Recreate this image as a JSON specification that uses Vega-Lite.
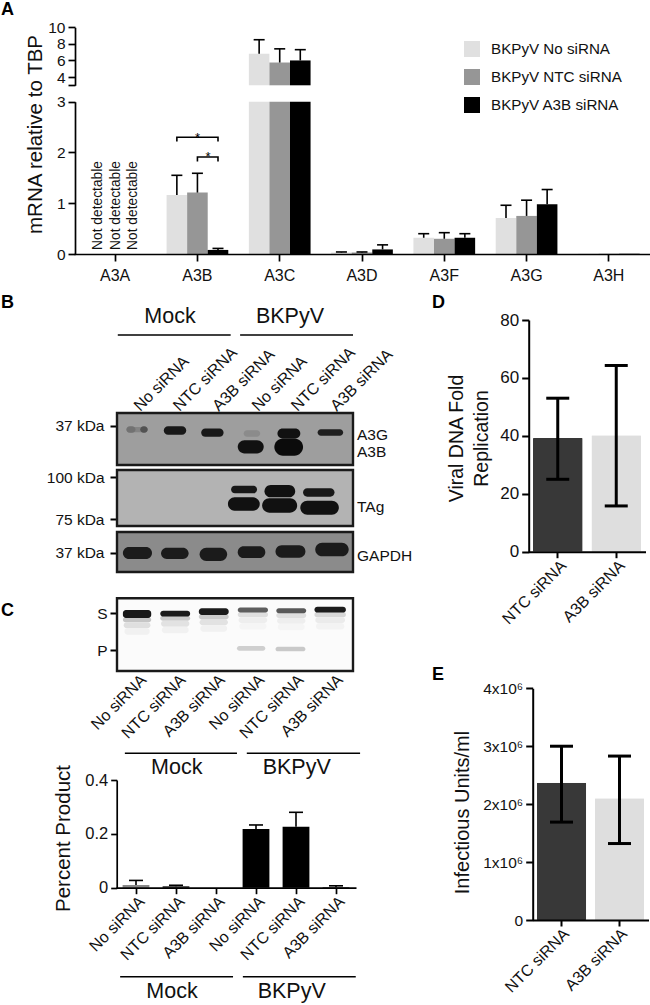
{"$schema":"https://vega.github.io/schema/vega-lite/v6.json","width":650,"height":1005,"autosize":{"type":"none"},"padding":0,"background":"white",
"config":{"view":{"stroke":null},"font":"Liberation Sans","axis":{"grid":false,"labelFont":"Liberation Sans","titleFont":"Liberation Sans","labelColor":"#111","titleColor":"#111","domainColor":"#000","tickColor":"#000","titleFontWeight":"normal","labelOverlap":false,"labelBound":false,"labelFlush":false},"legend":{"labelFont":"Liberation Sans"}},
"datasets":{
"mrna":[
{"gene":"A3B","series":"BKPyV No siRNA","value":1.16,"err":1.55},{"gene":"A3B","series":"BKPyV NTC siRNA","value":1.21,"err":1.59},{"gene":"A3B","series":"BKPyV A3B siRNA","value":0.08,"err":0.11},
{"gene":"A3C","series":"BKPyV No siRNA","value":6.8,"err":8.5},{"gene":"A3C","series":"BKPyV NTC siRNA","value":5.75,"err":7.4},{"gene":"A3C","series":"BKPyV A3B siRNA","value":6.0,"err":7.3},
{"gene":"A3D","series":"BKPyV No siRNA","value":0.03,"err":0.04},{"gene":"A3D","series":"BKPyV NTC siRNA","value":0.03,"err":0.04},{"gene":"A3D","series":"BKPyV A3B siRNA","value":0.09,"err":0.18},
{"gene":"A3F","series":"BKPyV No siRNA","value":0.32,"err":0.4},{"gene":"A3F","series":"BKPyV NTC siRNA","value":0.3,"err":0.42},{"gene":"A3F","series":"BKPyV A3B siRNA","value":0.32,"err":0.4},
{"gene":"A3G","series":"BKPyV No siRNA","value":0.71,"err":0.96},{"gene":"A3G","series":"BKPyV NTC siRNA","value":0.75,"err":1.06},{"gene":"A3G","series":"BKPyV A3B siRNA","value":0.98,"err":1.27},
{"gene":"A3H","series":"BKPyV No siRNA","value":0.005,"err":0.005},{"gene":"A3H","series":"BKPyV NTC siRNA","value":0.005,"err":0.005},{"gene":"A3H","series":"BKPyV A3B siRNA","value":0.005,"err":0.005}],
"blots":[
{"blot":"B1","kind":"membrane","x0":0,"x1":6,"y0":0,"y1":100,"i":0.35},
{"blot":"B1","kind":"band","x0":0.24,"x1":0.78,"y0":27,"y1":37,"i":0.45},{"blot":"B1","kind":"band","x0":0.24,"x1":0.47,"y0":25.5,"y1":38.2,"i":0.52},{"blot":"B1","kind":"band","x0":0.59,"x1":0.78,"y0":25.5,"y1":38.2,"i":0.65},
{"blot":"B1","kind":"band","x0":1.19,"x1":1.76,"y0":25.5,"y1":42,"i":0.92},{"blot":"B1","kind":"band","x0":2.14,"x1":2.71,"y0":30,"y1":45.9,"i":0.92},
{"blot":"B1","kind":"band","x0":3.22,"x1":3.64,"y0":33.1,"y1":45.9,"i":0.42},{"blot":"B1","kind":"band","x0":3.07,"x1":3.73,"y0":52.2,"y1":77.7,"i":0.95},
{"blot":"B1","kind":"band","x0":4.08,"x1":4.66,"y0":30,"y1":49,"i":0.95},{"blot":"B1","kind":"band","x0":4.0,"x1":4.73,"y0":49,"y1":82.2,"i":0.97},{"blot":"B1","kind":"band","x0":5.1,"x1":5.75,"y0":31.2,"y1":43.9,"i":0.88},
{"blot":"B2","kind":"membrane","x0":0,"x1":6,"y0":0,"y1":100,"i":0.27},
{"blot":"B2","kind":"band","x0":2.9,"x1":3.56,"y0":28,"y1":41.7,"i":0.92},{"blot":"B2","kind":"band","x0":2.82,"x1":3.63,"y0":48.8,"y1":72.6,"i":0.95},
{"blot":"B2","kind":"band","x0":3.75,"x1":4.53,"y0":26.8,"y1":48.8,"i":0.95},{"blot":"B2","kind":"band","x0":3.69,"x1":4.58,"y0":50.6,"y1":76.2,"i":0.95},
{"blot":"B2","kind":"band","x0":4.73,"x1":5.53,"y0":32.7,"y1":47.6,"i":0.92},{"blot":"B2","kind":"band","x0":4.66,"x1":5.64,"y0":54.8,"y1":79.8,"i":0.95},
{"blot":"B3","kind":"membrane","x0":0,"x1":6,"y0":0,"y1":100,"i":0.42},
{"blot":"B3","kind":"band","x0":0.15,"x1":0.89,"y0":37.5,"y1":67.5,"i":0.9},{"blot":"B3","kind":"band","x0":1.12,"x1":1.82,"y0":39.2,"y1":67.5,"i":0.9},{"blot":"B3","kind":"band","x0":2.1,"x1":2.8,"y0":39.2,"y1":72.5,"i":0.9},
{"blot":"B3","kind":"band","x0":3.07,"x1":3.77,"y0":35.8,"y1":65,"i":0.9},{"blot":"B3","kind":"band","x0":4.03,"x1":4.79,"y0":33.3,"y1":64.2,"i":0.9},{"blot":"B3","kind":"band","x0":5.04,"x1":5.89,"y0":26.7,"y1":60.8,"i":0.9},
{"blot":"C","kind":"membrane","x0":0,"x1":6,"y0":0,"y1":100,"i":0.015},
{"blot":"C","kind":"band","x0":0.15,"x1":0.87,"y0":26,"y1":33,"i":0.2},{"blot":"C","kind":"band","x0":0.17,"x1":0.85,"y0":33,"y1":41,"i":0.11},{"blot":"C","kind":"band","x0":0.19,"x1":0.83,"y0":41,"y1":50,"i":0.05},
{"blot":"C","kind":"band","x0":1.1,"x1":1.86,"y0":24,"y1":31,"i":0.18},{"blot":"C","kind":"band","x0":1.12,"x1":1.84,"y0":31,"y1":39,"i":0.1},{"blot":"C","kind":"band","x0":1.14,"x1":1.82,"y0":39,"y1":48,"i":0.05},
{"blot":"C","kind":"band","x0":2.08,"x1":2.84,"y0":22,"y1":29,"i":0.18},{"blot":"C","kind":"band","x0":2.1,"x1":2.82,"y0":29,"y1":37,"i":0.1},{"blot":"C","kind":"band","x0":2.12,"x1":2.8,"y0":37,"y1":46,"i":0.05},
{"blot":"C","kind":"band","x0":3.07,"x1":3.84,"y0":19,"y1":26,"i":0.11},{"blot":"C","kind":"band","x0":3.09,"x1":3.82,"y0":26,"y1":34,"i":0.06},{"blot":"C","kind":"band","x0":3.11,"x1":3.8,"y0":34,"y1":43,"i":0.035},
{"blot":"C","kind":"band","x0":4.05,"x1":4.81,"y0":20,"y1":27,"i":0.11},{"blot":"C","kind":"band","x0":4.07,"x1":4.79,"y0":27,"y1":35,"i":0.06},{"blot":"C","kind":"band","x0":4.09,"x1":4.77,"y0":35,"y1":44,"i":0.035},
{"blot":"C","kind":"band","x0":5.02,"x1":5.82,"y0":19,"y1":26,"i":0.14},{"blot":"C","kind":"band","x0":5.04,"x1":5.8,"y0":26,"y1":34,"i":0.07},{"blot":"C","kind":"band","x0":5.06,"x1":5.78,"y0":34,"y1":43,"i":0.04},
{"blot":"C","kind":"band","x0":0.15,"x1":0.87,"y0":16,"y1":27,"i":0.92},{"blot":"C","kind":"band","x0":1.1,"x1":1.86,"y0":17,"y1":25.2,"i":0.9},{"blot":"C","kind":"band","x0":2.08,"x1":2.84,"y0":13.8,"y1":23,"i":0.9},
{"blot":"C","kind":"band","x0":3.07,"x1":3.84,"y0":12.8,"y1":19.7,"i":0.6},{"blot":"C","kind":"band","x0":4.05,"x1":4.81,"y0":13.8,"y1":20.6,"i":0.62},{"blot":"C","kind":"band","x0":5.02,"x1":5.82,"y0":11.5,"y1":19.7,"i":0.9},
{"blot":"C","kind":"band","x0":3.05,"x1":3.77,"y0":65.6,"y1":72,"i":0.17},{"blot":"C","kind":"band","x0":4.03,"x1":4.79,"y0":66.5,"y1":73,"i":0.19}],
"lanes":[{"lane":"Mock|No siRNA"},{"lane":"Mock|NTC siRNA"},{"lane":"Mock|A3B siRNA"},{"lane":"BKPyV|No siRNA"},{"lane":"BKPyV|NTC siRNA"},{"lane":"BKPyV|A3B siRNA"}],
"groups":[{"cond":"Mock"},{"cond":"BKPyV"}],
"product":[{"lane":"Mock|No siRNA","v":0.01,"e":0.027},{"lane":"Mock|NTC siRNA","v":0.005,"e":0.009},{"lane":"Mock|A3B siRNA","v":0,"e":0},{"lane":"BKPyV|No siRNA","v":0.218,"e":0.233},{"lane":"BKPyV|NTC siRNA","v":0.226,"e":0.28},{"lane":"BKPyV|A3B siRNA","v":0.002,"e":0.007}],
"fold":[{"t":"NTC siRNA","v":39.3,"lo":25,"hi":53},{"t":"A3B siRNA","v":40.2,"lo":15.8,"hi":64.3}],
"units":[{"t":"NTC siRNA","v":2370000,"lo":1690000,"hi":3000000},{"t":"A3B siRNA","v":2100000,"lo":1320000,"hi":2830000}]
},
"layer":[
{"data":{"values":[{"letter":"A"},{"letter":"B"}]},"mark":{"type":"text","fontSize":18,"fontWeight":"bold","align":"left","baseline":"middle","color":"#000"},"encoding":{"text":{"field":"letter"},"x":{"field":"letter","type":"nominal","axis":null,"scale":{"type":"point","domain":["A","B"],"range":[1,1],"padding":0}},"y":{"field":"letter","type":"nominal","axis":null,"scale":{"type":"point","domain":["A","B"],"range":[10,303],"padding":0}}}},
{"data":{"values":[{"letter":"C"},{"letter":"D"}]},"mark":{"type":"text","fontSize":18,"fontWeight":"bold","align":"left","baseline":"middle","color":"#000"},"encoding":{"text":{"field":"letter"},"x":{"field":"letter","type":"nominal","axis":null,"scale":{"type":"point","domain":["C","D"],"range":[1,432],"padding":0}},"y":{"field":"letter","type":"nominal","axis":null,"scale":{"type":"point","domain":["C","D"],"range":[611,303],"padding":0}}}},
{"data":{"values":[{"letter":"E"}]},"mark":{"type":"text","fontSize":18,"fontWeight":"bold","align":"left","baseline":"middle","color":"#000"},"encoding":{"text":{"field":"letter"},"x":{"field":"letter","type":"nominal","axis":null,"scale":{"type":"point","domain":["E"],"range":[432,432],"padding":0}},"y":{"field":"letter","type":"nominal","axis":null,"scale":{"type":"point","domain":["E"],"range":[675,675],"padding":0}}}},

{"data":{"name":"mrna"},"layer":[
{"mark":{"type":"bar"},"encoding":{"x":{"field":"gene","type":"nominal","axis":{"orient":"bottom","offset":-751,"title":null,"labelAngle":0,"labelFontSize":16,"labelPadding":6,"tickSize":7,"tickWidth":1.7,"domainWidth":1.7,"zindex":1},"scale":{"type":"band","domain":["A3A","A3B","A3C","A3D","A3F","A3G","A3H"],"range":[74,650],"paddingInner":0.25,"paddingOuter":0.125}},"xOffset":{"field":"series","type":"nominal","scale":{"domain":["BKPyV No siRNA","BKPyV NTC siRNA","BKPyV A3B siRNA"]}},"y":{"field":"value","type":"quantitative","axis":{"orient":"left","offset":-75,"values":[0,1,2,3],"format":"d","title":"mRNA relative to TBP","titleFontSize":20.5,"titleX":-40,"titleY":134,"titleBaseline":"middle","labelFontSize":15.5,"tickSize":7,"tickWidth":1.7,"domainWidth":1.7,"labelPadding":3,"zindex":1},"scale":{"domain":[0,3],"range":[254,101.7],"clamp":true}},"color":{"field":"series","type":"nominal","scale":{"domain":["BKPyV No siRNA","BKPyV NTC siRNA","BKPyV A3B siRNA"],"range":["#e0e0e0","#969696","#000000"]},"legend":{"orient":"none","legendX":463,"legendY":40,"title":null,"symbolType":"square","symbolSize":256,"labelFontSize":15.2,"labelColor":"#111","rowPadding":10,"labelOffset":10}}}},
{"transform":[{"filter":"datum.value<3"}],"mark":{"type":"rule","color":"#000","strokeWidth":1.6},"encoding":{"x":{"field":"gene","type":"nominal"},"xOffset":{"field":"series","type":"nominal"},"y":{"field":"value","type":"quantitative"},"y2":{"field":"err"}}},
{"transform":[{"filter":"datum.value<3 && datum.gene!='A3H'"}],"mark":{"type":"tick","orient":"horizontal","size":11,"thickness":1.6,"color":"#000","opacity":1},"encoding":{"x":{"field":"gene","type":"nominal"},"xOffset":{"field":"series","type":"nominal"},"y":{"field":"err","type":"quantitative"}}}
]},
{"data":{"name":"mrna"},"transform":[{"filter":"datum.gene=='A3C'"}],"layer":[
{"mark":{"type":"bar"},"encoding":{"x":{"field":"gene","type":"nominal","axis":null,"scale":{"type":"band","domain":["A3A","A3B","A3C","A3D","A3F","A3G","A3H"],"range":[74,650],"paddingInner":0.25,"paddingOuter":0.125}},"xOffset":{"field":"series","type":"nominal","scale":{"domain":["BKPyV No siRNA","BKPyV NTC siRNA","BKPyV A3B siRNA"]}},"y":{"field":"value","type":"quantitative","axis":{"orient":"left","offset":-75,"values":[3,4,6,8,10],"labelExpr":"datum.value==3?'':''+datum.value","title":null,"labelFontSize":15.5,"tickSize":7,"tickWidth":1.7,"domainWidth":1.7,"labelPadding":3},"scale":{"domain":[3,10],"range":[85.3,27.3],"clamp":true}},"color":{"field":"series","type":"nominal","scale":{"domain":["BKPyV No siRNA","BKPyV NTC siRNA","BKPyV A3B siRNA"],"range":["#e0e0e0","#969696","#000000"]},"legend":null}}},
{"mark":{"type":"rule","color":"#000","strokeWidth":1.6},"encoding":{"x":{"field":"gene","type":"nominal"},"xOffset":{"field":"series","type":"nominal"},"y":{"field":"value","type":"quantitative"},"y2":{"field":"err"}}},
{"mark":{"type":"tick","orient":"horizontal","size":11,"thickness":1.6,"color":"#000","opacity":1},"encoding":{"x":{"field":"gene","type":"nominal"},"xOffset":{"field":"series","type":"nominal"},"y":{"field":"err","type":"quantitative"}}}
]},
{"data":{"values":[{"s":"No siRNA","value":0,"note":"Not detectable"},{"s":"NTC siRNA","value":0,"note":"Not detectable"},{"s":"A3B siRNA","value":0,"note":"Not detectable"}]},"mark":{"type":"text","fontSize":13.8,"angle":270,"align":"left","baseline":"middle","dx":4,"color":"#111"},"encoding":{"text":{"field":"note"},"x":{"field":"s","type":"nominal","axis":null,"scale":{"type":"point","domain":["No siRNA","NTC siRNA","A3B siRNA"],"range":[98,133],"padding":0}},"y":{"field":"value","type":"quantitative","axis":null,"scale":{"domain":[0,3],"range":[254,101.7]}}}},
{"data":{"values":[{"b":"all","p":1.25,"v":2.215},{"b":"all","p":1.25,"v":2.3},{"b":"all","p":1.75,"v":2.3},{"b":"all","p":1.75,"v":2.215},{"b":"ntc","p":1.5,"v":1.82},{"b":"ntc","p":1.5,"v":1.91},{"b":"ntc","p":1.75,"v":1.91},{"b":"ntc","p":1.75,"v":1.82}]},"mark":{"type":"line","color":"#000","strokeWidth":1.6},"encoding":{"detail":{"field":"b"},"x":{"field":"p","type":"quantitative","axis":null,"scale":{"domain":[0,7],"range":[74,650]}},"y":{"field":"v","type":"quantitative","axis":null,"scale":{"domain":[0,3],"range":[254,101.7]}},"order":{"field":"seq"}}},
{"data":{"values":[{"p":1.5,"v":2.33,"s":"*"},{"p":1.63,"v":1.95,"s":"*"}]},"mark":{"type":"text","fontSize":13,"baseline":"middle","dy":2,"color":"#000"},"encoding":{"text":{"field":"s"},"x":{"field":"p","type":"quantitative","axis":null,"scale":{"domain":[0,7],"range":[74,650]}},"y":{"field":"v","type":"quantitative","axis":null,"scale":{"domain":[0,3],"range":[254,101.7]}}}},

{"data":{"name":"groups"},"mark":{"type":"text","fontSize":21.5,"baseline":"middle","color":"#111"},"encoding":{"text":{"field":"cond"},"x":{"field":"cond","type":"nominal","axis":null,"scale":{"type":"point","domain":["Mock","BKPyV"],"range":[170,290],"padding":0}},"y":{"datum":"B","type":"nominal","axis":null,"scale":{"type":"point","domain":["B"],"range":[317,317],"padding":0}}}},
{"data":{"values":[{"cond":"Mock","a":0.02,"b":2.89},{"cond":"BKPyV","a":3.13,"b":6}]},"mark":{"type":"rule","color":"#000","strokeWidth":1.6},"encoding":{"x":{"field":"a","type":"quantitative","axis":null,"scale":{"domain":[0,6],"range":[117,353]}},"x2":{"field":"b"},"y":{"datum":"B","type":"nominal","axis":null,"scale":{"type":"point","domain":["B"],"range":[335,335],"padding":0}}}},
{"data":{"name":"lanes"},"mark":{"type":"point","opacity":0},"encoding":{"x":{"field":"lane","type":"nominal","sort":null,"scale":{"type":"band","domain":["Mock|No siRNA","Mock|NTC siRNA","Mock|A3B siRNA","BKPyV|No siRNA","BKPyV|NTC siRNA","BKPyV|A3B siRNA"],"range":[117,353]},"axis":{"orient":"top","offset":-408,"title":null,"domain":false,"ticks":false,"labelAngle":-45,"labelAlign":"left","labelBaseline":"middle","labelPadding":0,"labelFontSize":16,"labelExpr":"split(datum.label,'|')[1]"}}}},

{"data":{"name":"blots"},"transform":[{"filter":"datum.blot=='B1'"}],"encoding":{"x":{"field":"x0","type":"quantitative","axis":null,"scale":{"domain":[0,6],"range":[117,353]}},"x2":{"field":"x1"},"y":{"field":"y0","type":"quantitative","axis":null,"scale":{"domain":[0,100],"range":[413,465]}},"y2":{"field":"y1"},"color":{"field":"i","type":"quantitative","legend":null,"scale":{"domain":[0,1],"range":["#ffffff","#000000"]}}},"layer":[{"transform":[{"filter":"datum.kind=='membrane'"}],"mark":{"type":"rect","stroke":"#1a1a1a","strokeWidth":2.4}},{"transform":[{"filter":"datum.kind=='band'"}],"mark":{"type":"rect","cornerRadius":10}}]},
{"data":{"name":"blots"},"transform":[{"filter":"datum.blot=='B2'"}],"encoding":{"x":{"field":"x0","type":"quantitative","axis":null,"scale":{"domain":[0,6],"range":[117,353]}},"x2":{"field":"x1"},"y":{"field":"y0","type":"quantitative","axis":null,"scale":{"domain":[0,100],"range":[470,526]}},"y2":{"field":"y1"},"color":{"field":"i","type":"quantitative","legend":null,"scale":{"domain":[0,1],"range":["#ffffff","#000000"]}}},"layer":[{"transform":[{"filter":"datum.kind=='membrane'"}],"mark":{"type":"rect","stroke":"#1a1a1a","strokeWidth":2.4}},{"transform":[{"filter":"datum.kind=='band'"}],"mark":{"type":"rect","cornerRadius":10}}]},
{"data":{"name":"blots"},"transform":[{"filter":"datum.blot=='B3'"}],"encoding":{"x":{"field":"x0","type":"quantitative","axis":null,"scale":{"domain":[0,6],"range":[117,353]}},"x2":{"field":"x1"},"y":{"field":"y0","type":"quantitative","axis":null,"scale":{"domain":[0,100],"range":[532,572]}},"y2":{"field":"y1"},"color":{"field":"i","type":"quantitative","legend":null,"scale":{"domain":[0,1],"range":["#ffffff","#000000"]}}},"layer":[{"transform":[{"filter":"datum.kind=='membrane'"}],"mark":{"type":"rect","stroke":"#1a1a1a","strokeWidth":2.4}},{"transform":[{"filter":"datum.kind=='band'"}],"mark":{"type":"rect","cornerRadius":10}}]},
{"data":{"name":"blots"},"transform":[{"filter":"datum.blot=='C'"}],"encoding":{"x":{"field":"x0","type":"quantitative","axis":null,"scale":{"domain":[0,6],"range":[117,353]}},"x2":{"field":"x1"},"y":{"field":"y0","type":"quantitative","axis":null,"scale":{"domain":[0,100],"range":[598.3,671]}},"y2":{"field":"y1"},"color":{"field":"i","type":"quantitative","legend":null,"scale":{"domain":[0,1],"range":["#ffffff","#000000"]}}},"layer":[{"transform":[{"filter":"datum.kind=='membrane'"}],"mark":{"type":"rect","stroke":"#1a1a1a","strokeWidth":2.4}},{"transform":[{"filter":"datum.kind=='band'"}],"mark":{"type":"rect","cornerRadius":3}}]},

{"data":{"values":[{"m":"37 kDa"}]},"mark":{"type":"point","opacity":0},"encoding":{"y":{"field":"m","type":"nominal","scale":{"type":"point","domain":["37 kDa"],"range":[425.7,425.7],"padding":0},"axis":{"orient":"left","offset":-117,"title":null,"domain":false,"tickSize":7,"tickWidth":2,"labelFontSize":15.5,"labelPadding":6}}}},
{"data":{"values":[{"m":"100 kDa"},{"m":"75 kDa"}]},"mark":{"type":"point","opacity":0},"encoding":{"y":{"field":"m","type":"nominal","scale":{"type":"point","domain":["100 kDa","75 kDa"],"range":[477,519],"padding":0},"axis":{"orient":"left","offset":-117,"title":null,"domain":false,"tickSize":7,"tickWidth":2,"labelFontSize":15.5,"labelPadding":6}}}},
{"data":{"values":[{"m":"37 kDa"}]},"mark":{"type":"point","opacity":0},"encoding":{"y":{"field":"m","type":"nominal","scale":{"type":"point","domain":["37 kDa"],"range":[552.7,552.7],"padding":0},"axis":{"orient":"left","offset":-117,"title":null,"domain":false,"tickSize":7,"tickWidth":2,"labelFontSize":15.5,"labelPadding":6}}}},
{"data":{"values":[{"m":"S"},{"m":"P"}]},"mark":{"type":"point","opacity":0},"encoding":{"y":{"field":"m","type":"nominal","scale":{"type":"point","domain":["S","P"],"range":[613.3,650],"padding":0},"axis":{"orient":"left","offset":-117,"title":null,"domain":false,"tickSize":7,"tickWidth":2,"labelFontSize":15.5,"labelPadding":3}}}},
{"data":{"values":[{"m":"A3G"},{"m":"A3B"}]},"mark":{"type":"point","opacity":0},"encoding":{"y":{"field":"m","type":"nominal","scale":{"type":"point","domain":["A3G","A3B"],"range":[434.3,451],"padding":0},"axis":{"orient":"right","offset":-293.5,"title":null,"domain":false,"ticks":false,"labelFontSize":15.5,"labelPadding":0}}}},
{"data":{"values":[{"m":"TAg"}]},"mark":{"type":"point","opacity":0},"encoding":{"y":{"field":"m","type":"nominal","scale":{"type":"point","domain":["TAg"],"range":[506,506],"padding":0},"axis":{"orient":"right","offset":-293.5,"title":null,"domain":false,"ticks":false,"labelFontSize":15.5,"labelPadding":0}}}},
{"data":{"values":[{"m":"GAPDH"}]},"mark":{"type":"point","opacity":0},"encoding":{"y":{"field":"m","type":"nominal","scale":{"type":"point","domain":["GAPDH"],"range":[555,555],"padding":0},"axis":{"orient":"right","offset":-293.5,"title":null,"domain":false,"ticks":false,"labelFontSize":15.5,"labelPadding":0}}}},

{"data":{"name":"lanes"},"mark":{"type":"point","opacity":0},"encoding":{"x":{"field":"lane","type":"nominal","sort":null,"scale":{"type":"band","domain":["Mock|No siRNA","Mock|NTC siRNA","Mock|A3B siRNA","BKPyV|No siRNA","BKPyV|NTC siRNA","BKPyV|A3B siRNA"],"range":[117,353]},"axis":{"orient":"bottom","offset":-334,"title":null,"domain":false,"ticks":false,"labelAngle":-45,"labelAlign":"right","labelBaseline":"middle","labelPadding":6,"labelOffset":7,"labelFontSize":16,"labelExpr":"split(datum.label,'|')[1]"}}}},
{"data":{"values":[{"cond":"Mock","a":0.2,"b":3.05},{"cond":"BKPyV","a":3.3,"b":6.18}]},"mark":{"type":"rule","color":"#000","strokeWidth":1.6},"encoding":{"x":{"field":"a","type":"quantitative","axis":null,"scale":{"domain":[0,6],"range":[117,353]}},"x2":{"field":"b"},"y":{"datum":"C","type":"nominal","axis":null,"scale":{"type":"point","domain":["C"],"range":[753.3,753.3],"padding":0}}}},
{"data":{"name":"groups"},"mark":{"type":"text","fontSize":21.5,"baseline":"middle","color":"#111"},"encoding":{"text":{"field":"cond"},"x":{"field":"cond","type":"nominal","axis":null,"scale":{"type":"point","domain":["Mock","BKPyV"],"range":[176.7,296.7],"padding":0}},"y":{"datum":"C","type":"nominal","axis":null,"scale":{"type":"point","domain":["C"],"range":[768,768],"padding":0}}}},

{"data":{"name":"product"},"layer":[
{"mark":{"type":"bar"},"encoding":{"x":{"field":"lane","type":"nominal","sort":null,"scale":{"type":"band","domain":["Mock|No siRNA","Mock|NTC siRNA","Mock|A3B siRNA","BKPyV|No siRNA","BKPyV|NTC siRNA","BKPyV|A3B siRNA"],"range":[116,356],"paddingInner":0.33,"paddingOuter":0.165},"axis":{"orient":"bottom","offset":-117.3,"title":null,"tickSize":6,"tickWidth":1.7,"domainWidth":1.7,"labelAngle":-45,"labelAlign":"right","labelBaseline":"middle","labelPadding":5,"labelOffset":6,"labelFontSize":16,"labelExpr":"split(datum.label,'|')[1]","zindex":1}},"y":{"field":"v","type":"quantitative","scale":{"domain":[0,0.4],"range":[887.7,780]},"axis":{"orient":"left","offset":-116.7,"values":[0,0.2,0.4],"labelExpr":"datum.value==0?'0':format(datum.value,'.1f')","title":"Percent Product","titleFontSize":20.5,"titleX":-53,"titleY":838,"titleBaseline":"middle","labelFontSize":16.5,"tickSize":6,"tickWidth":1.7,"domainWidth":1.7,"labelPadding":3}},"color":{"field":"lane","type":"nominal","legend":null,"scale":{"domain":["Mock|No siRNA","Mock|NTC siRNA","Mock|A3B siRNA","BKPyV|No siRNA","BKPyV|NTC siRNA","BKPyV|A3B siRNA"],"range":["#888888","#000000","#000000","#000000","#000000","#000000"]}}}},
{"mark":{"type":"rule","color":"#000","strokeWidth":1.6},"encoding":{"x":{"field":"lane","type":"nominal","sort":null},"y":{"field":"v","type":"quantitative"},"y2":{"field":"e"}}},
{"transform":[{"filter":"datum.e>0"}],"mark":{"type":"tick","orient":"horizontal","size":14,"thickness":1.6,"color":"#000","opacity":1},"encoding":{"x":{"field":"lane","type":"nominal","sort":null},"y":{"field":"e","type":"quantitative"}}}
]},
{"data":{"values":[{"cond":"Mock","a":0.08,"b":2.95},{"cond":"BKPyV","a":3.2,"b":6.07}]},"mark":{"type":"rule","color":"#000","strokeWidth":1.6},"encoding":{"x":{"field":"a","type":"quantitative","axis":null,"scale":{"domain":[0,6],"range":[117,353]}},"x2":{"field":"b"},"y":{"datum":"C2","type":"nominal","axis":null,"scale":{"type":"point","domain":["C2"],"range":[976.7,976.7],"padding":0}}}},
{"data":{"name":"groups"},"mark":{"type":"text","fontSize":21.5,"baseline":"middle","color":"#111"},"encoding":{"text":{"field":"cond"},"x":{"field":"cond","type":"nominal","axis":null,"scale":{"type":"point","domain":["Mock","BKPyV"],"range":[172,291.7],"padding":0}},"y":{"datum":"C2","type":"nominal","axis":null,"scale":{"type":"point","domain":["C2"],"range":[991.7,991.7],"padding":0}}}},

{"data":{"name":"fold"},"layer":[
{"mark":{"type":"bar","cornerRadius":1},"encoding":{"x":{"field":"t","type":"nominal","sort":null,"scale":{"type":"band","domain":["NTC siRNA","A3B siRNA"],"range":[528.5,645.5],"paddingInner":0.15,"paddingOuter":0.075},"axis":{"orient":"bottom","offset":-453.3,"title":null,"tickSize":6,"tickWidth":2,"domainWidth":2,"labelAngle":-45,"labelAlign":"right","labelBaseline":"middle","labelPadding":5,"labelOffset":6,"labelFontSize":16,"zindex":1}},"y":{"field":"v","type":"quantitative","scale":{"domain":[0,80],"range":[551.7,320]},"axis":{"orient":"left","offset":-528.7,"values":[0,20,40,60,80],"title":["Viral DNA Fold","Replication"],"titleFontSize":19.5,"titleLineHeight":25,"titleX":-72,"titleY":438,"titleBaseline":"middle","labelFontSize":17,"tickSize":7,"tickWidth":2,"domainWidth":2,"labelPadding":3}},"color":{"field":"t","type":"nominal","legend":null,"scale":{"domain":["NTC siRNA","A3B siRNA"],"range":["#383838","#dedede"]}}}},
{"mark":{"type":"rule","color":"#000","strokeWidth":3},"encoding":{"x":{"field":"t","type":"nominal","sort":null},"y":{"field":"lo","type":"quantitative"},"y2":{"field":"hi"}}},
{"mark":{"type":"tick","orient":"horizontal","size":23,"thickness":3,"color":"#000","opacity":1},"encoding":{"x":{"field":"t","type":"nominal","sort":null},"y":{"field":"lo","type":"quantitative"}}},
{"mark":{"type":"tick","orient":"horizontal","size":23,"thickness":3,"color":"#000","opacity":1},"encoding":{"x":{"field":"t","type":"nominal","sort":null},"y":{"field":"hi","type":"quantitative"}}}
]},
{"data":{"name":"units"},"layer":[
{"mark":{"type":"bar","cornerRadius":1},"encoding":{"x":{"field":"t","type":"nominal","sort":null,"scale":{"type":"band","domain":["NTC siRNA","A3B siRNA"],"range":[532.5,648.5],"paddingInner":0.15,"paddingOuter":0.075},"axis":{"orient":"bottom","offset":-85,"title":null,"tickSize":6,"tickWidth":2,"domainWidth":2,"labelAngle":-45,"labelAlign":"right","labelBaseline":"middle","labelPadding":5,"labelOffset":5,"labelFontSize":16,"zindex":1}},"y":{"field":"v","type":"quantitative","scale":{"domain":[0,4000000],"range":[920,688.3]},"axis":{"orient":"left","offset":-532.7,"values":[0,1000000,2000000,3000000,4000000],"labelExpr":"datum.value==0?'0':(datum.value/1000000)+'x10⁶'","title":"Infectious Units/ml","titleFontSize":20,"titleX":-70,"titleY":812,"titleBaseline":"middle","labelFontSize":15.5,"tickSize":7,"tickWidth":2,"domainWidth":2,"labelPadding":3}},"color":{"field":"t","type":"nominal","legend":null,"scale":{"domain":["NTC siRNA","A3B siRNA"],"range":["#383838","#dedede"]}}}},
{"mark":{"type":"rule","color":"#000","strokeWidth":3},"encoding":{"x":{"field":"t","type":"nominal","sort":null},"y":{"field":"lo","type":"quantitative"},"y2":{"field":"hi"}}},
{"mark":{"type":"tick","orient":"horizontal","size":23,"thickness":3,"color":"#000","opacity":1},"encoding":{"x":{"field":"t","type":"nominal","sort":null},"y":{"field":"lo","type":"quantitative"}}},
{"mark":{"type":"tick","orient":"horizontal","size":23,"thickness":3,"color":"#000","opacity":1},"encoding":{"x":{"field":"t","type":"nominal","sort":null},"y":{"field":"hi","type":"quantitative"}}}
]}
],
"resolve":{"scale":{"x":"independent","y":"independent","xOffset":"independent","color":"independent"},"axis":{"x":"independent","y":"independent"}}
}
